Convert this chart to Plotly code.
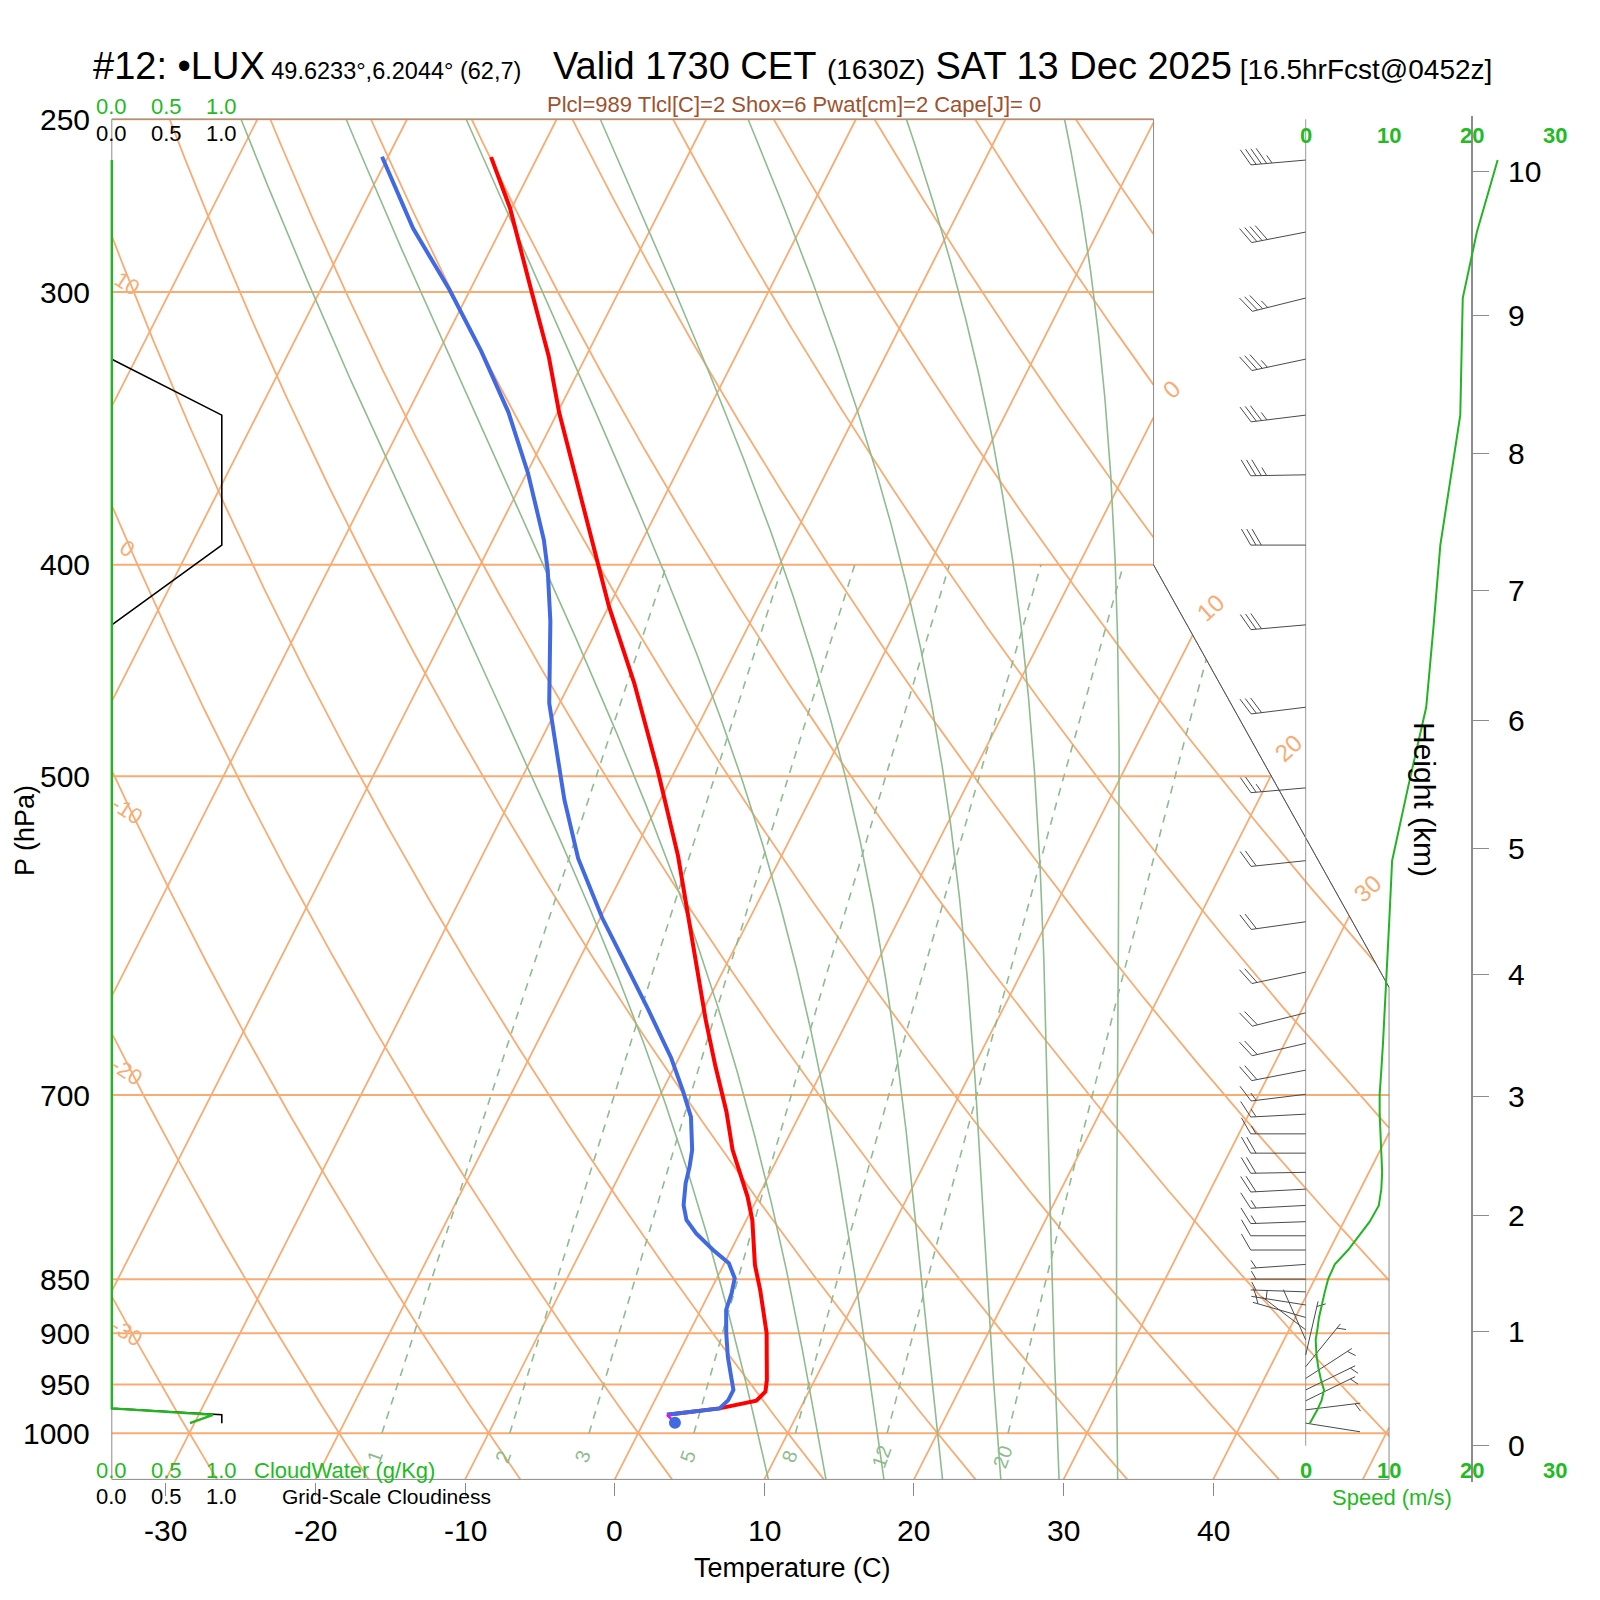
import numpy as np
import plotly.graph_objects as go

W, H = 1600, 1600
OFF = 8.0   # page body margin in the browser
FONT = "Liberation Sans"

# ---------------- data ----------------
temp_p = [260.2, 274.6, 297.6, 321.0, 340.6, 365.3, 391.8, 417.9, 453.2, 496.6,
          544.0, 589.9, 646.6, 678.7, 712.4, 741.6, 760.3, 779.3, 798.6, 818.5,
          837.4, 859.8, 878.1, 900.0, 922.5, 945.5, 957.2, 966.4, 974.2, 980.8]
temp_c = [-53.1, -50.1, -46.2, -42.5, -39.9, -36.5, -33.1, -30.0, -25.7, -21.2,
          -16.9, -13.4, -9.5, -7.3, -5.0, -3.3, -2.0, -0.7, 0.4, 1.3,
          2.1, 3.3, 4.2, 5.2, 6.0, 6.8, 7.1, 6.8, 4.6, 1.3]
dewp_p = [260.1, 280.5, 299.2, 319.2, 340.5, 363.3, 389.6, 402.4, 424.6, 462.9,
          483.2, 512.7, 545.3, 580.4, 609.2, 639.5, 673.3, 697.1, 716.2, 741.6,
          754.9, 768.3, 786.1, 798.6, 809.9, 824.3, 835.9, 849.2, 862.7, 878.1,
          900.0, 922.5, 942.2, 955.4, 965.7, 974.2, 980.8]
dewp_c = [-60.4, -55.9, -51.4, -47.2, -43.3, -39.9, -36.6, -35.3, -33.4, -30.7,
          -28.9, -26.4, -23.5, -19.9, -16.8, -13.7, -10.5, -8.6, -7.2, -6.0,
          -5.6, -5.3, -4.7, -4.0, -2.9, -1.2, 0.3, 1.2, 1.5, 1.7,
          2.5, 3.4, 4.3, 4.9, 4.9, 4.6, 1.3]
parcel_p = [980.8, 989.0]
parcel_t = [1.3, 2.1]
lcl_p = 989.0
lcl_t = 2.1

wind_p = [261.0, 281.6, 301.9, 322.0, 341.6, 363.8, 391.8, 426.2, 464.9, 506.2,
          546.6, 583.0, 614.8, 641.8, 662.8, 681.8, 699.4, 714.2, 729.2, 744.2,
          759.4, 773.0, 786.4, 800.0, 812.0, 824.3, 836.9, 850.0, 861.5, 873.5,
          885.1, 896.7, 906.2, 920.8, 932.3, 943.9, 955.4, 966.4, 975.7, 989.5]
wind_dir = [265, 259, 256, 258, 263, 269, 270, 265, 263, 265,
            264, 262, 258, 256, 257, 259, 263, 267, 270, 270,
            269, 267, 267, 268, 270, 270, 266, 270, 272, 279,
            286, 307, 336, 13, 39, 57, 64, 64, 83, 99]
wind_spd = [23.1, 20.6, 18.9, 18.75, 18.6, 17.5, 16.2, 15.4, 14.5, 12.3,
            10.4, 10.05, 9.76, 9.5, 9.3, 9.1, 8.9, 8.9, 9.0, 9.1,
            9.2, 9.1, 8.8, 7.7, 6.4, 5.1, 3.5, 2.7, 2.3, 1.9,
            1.6, 1.4, 1.2, 1.3, 1.5, 1.8, 2.2, 1.9, 1.4, 0.5]

cloud_p = [261.0, 322.0, 341.6, 363.8, 391.8, 426.2, 966.4, 974.2, 980.8, 989.5]
cloudiness = [0, 0, 1, 1, 1, 0, 0, 0, 1, 1]
cloudwater = [0, 0, 0, 0, 0, 0, 0, 0, 0.92, 0.71]

pressure_ticks = [250, 300, 400, 500, 700, 850, 900, 950, 1000]
temp_ticks = [-30, -20, -10, 0, 10, 20, 30, 40]
height_km = [0, 1, 2, 3, 4, 5, 6, 7, 8, 9, 10]
height_p = [1013.4, 898.6, 794.9, 701.0, 616.6, 539.9, 471.7, 410.9, 355.7, 307.5, 264.2]
speed_ticks = [0, 10, 20, 30]
cloud_ticks = [0.0, 0.5, 1.0]

isotherm_vals = list(range(-110, 51, 10))
dry_adiabat_vals = list(range(-30, 151, 10))
moist_adiabat_vals = [8, 12, 16, 20, 24, 28, 32]
mixing_ratio_vals = [1, 2, 3, 5, 8, 12, 20]
isotherm_label_vals = [0, 10, 20, 30]
dry_label_vals = [-30, -20, -10, 0, 10]

title_html = ('<span style="font-size:38px">#12: \u2022LUX</span>'
              '<span style="font-size:23.5px"> 49.6233\u00b0,6.2044\u00b0 (62,7)</span>'
              '<span style="font-size:38px">&nbsp;&nbsp; Valid 1730 CET&nbsp;</span>'
              '<span style="font-size:28px">(1630Z)</span>'
              '<span style="font-size:38px"> SAT 13 Dec 2025</span>'
              '<span style="font-size:28px"> [16.5hrFcst@0452z]</span>')
subtitle = "Plcl=989 Tlcl[C]=2 Shox=6 Pwat[cm]=2 Cape[J]= 0"

# ---------------- skew-T geometry (NCL style) ----------------
def Yp(p):
    return 132.182 - 44.061 * np.log10(np.asarray(p, float))

def P_of_Y(Y):
    return 10 ** ((132.182 - np.asarray(Y, float)) / 44.061)

def Xs(t, p):
    return 0.54 * np.asarray(t, float) + 0.90692 * Yp(p)

XMIN, XMAX, XCUT = -19.0, 27.1, 18.6
YCUT_LO, YCUT_HI = 9.0, 17.53
YMIN, YMAX = float(Yp(1050.0)), float(Yp(250.0))
PADX, PADY = 0.1, 0.06

# layout (screen pixels)
PX_LEFT, PX_PER_X = 111.8, 27.706
PX_BOTTOM, PX_PER_Y = 1479.4, 49.53
SPD0_PX, SPD_PER = 1305.7, 8.31
X2_L, X2_R = 1228.0, 1562.0
CLD_PER = 110.0


def xp(px):
    return (px - OFF) / W


def yp(px):
    return 1 - (px - OFF) / H


dom_x = [xp(PX_LEFT - PADX * PX_PER_X), xp(PX_LEFT + (XMAX - XMIN + PADX) * PX_PER_X)]
dom_y = [yp(PX_BOTTOM + PADY * PX_PER_Y), yp(PX_BOTTOM - (YMAX - YMIN + PADY) * PX_PER_Y)]


def inside(X, Y):
    X = np.asarray(X, float)
    Y = np.asarray(Y, float)
    eps = 1e-9
    ydiag = YCUT_LO + (XMAX - X) * (YCUT_HI - YCUT_LO) / (XMAX - XCUT)
    cut = (X > XCUT + eps) & (Y > ydiag + eps)
    return (X >= XMIN - eps) & (X <= XMAX + eps) & (Y >= YMIN - eps) & (Y <= YMAX + eps) & ~cut


def clip_curve(fx, fy, t0, t1, n=700):
    t = np.linspace(t0, t1, n)
    X, Y = fx(t), fy(t)
    ins = inside(X, Y)
    xs, ys = [], []
    for i in range(n):
        if i > 0 and ins[i] != ins[i - 1]:
            a, b = t[i - 1], t[i]
            ia = bool(ins[i - 1])
            for _ in range(40):
                m = 0.5 * (a + b)
                if bool(inside(fx(m), fy(m))) == ia:
                    a = m
                else:
                    b = m
            if ia:
                xs.append(float(fx(a))); ys.append(float(fy(a)))
                xs.append(None); ys.append(None)
            else:
                xs.append(float(fx(b))); ys.append(float(fy(b)))
        if ins[i]:
            xs.append(float(X[i])); ys.append(float(Y[i]))
    xs.append(None); ys.append(None)
    return xs, ys


ident = lambda Y: np.asarray(Y, float)

# isotherms
iso_x, iso_y = [], []
for T in isotherm_vals:
    xs, ys = clip_curve(lambda Y, T=T: 0.54 * T + 0.90692 * np.asarray(Y, float), ident, YMIN, YMAX, 300)
    iso_x += xs; iso_y += ys

# isobars
bar_x, bar_y = [], []
for p in pressure_ticks:
    Yc = float(Yp(p))
    xs, ys = clip_curve(lambda X: np.asarray(X, float),
                        lambda X, Yc=Yc: np.full_like(np.asarray(X, float), Yc), XMIN, XMAX, 400)
    bar_x += xs; bar_y += ys

# dry adiabats
def dry_T(theta, p):
    return (theta + 273.15) * (np.asarray(p, float) / 1000.0) ** 0.2857 - 273.15

dry_x, dry_y = [], []
for th in dry_adiabat_vals:
    xs, ys = clip_curve(lambda Y, th=th: 0.54 * dry_T(th, P_of_Y(Y)) + 0.90692 * np.asarray(Y, float),
                        ident, YMIN, YMAX, 500)
    dry_x += xs; dry_y += ys

# saturated adiabats (Stipanuk SATLFT with the Wobus function, as in NCL)
def wobf(t):
    t = np.asarray(t, float)
    x = t - 20.0
    pol_n = 1 + x * (-8.8416605e-03 + x * (1.4714143e-04 + x * (-9.6719890e-07 + x * (-3.2607217e-08 + x * (-3.8598073e-10)))))
    pol_p = 1 + x * (3.6182989e-03 + x * (-1.3603273e-05 + x * (4.9618922e-07 + x * (-6.1059365e-09 + x * (3.9401551e-11 + x * (-1.2588129e-13 + x * (1.6688280e-16)))))))
    return np.where(x <= 0, 15.130 / pol_n ** 4, 29.930 / pol_p ** 4 + 0.96 * x - 14.8)

def sat_T(thw, p):
    p = np.asarray(p, float)
    fac = (1000.0 / p) ** 0.28541
    lo = np.full_like(p, -150.0)
    hi = np.full_like(p, 60.0)
    for _ in range(60):
        mid = 0.5 * (lo + hi)
        pt = (mid + 273.16) * fac - 273.16
        g = pt - wobf(pt) + wobf(mid) - thw
        big = g > 0
        hi = np.where(big, mid, hi)
        lo = np.where(big, lo, mid)
    return 0.5 * (lo + hi)

moist_x, moist_y = [], []
for thw in moist_adiabat_vals:
    xs, ys = clip_curve(lambda Y, thw=thw: 0.54 * sat_T(thw, P_of_Y(Y)) + 0.90692 * np.asarray(Y, float),
                        ident, YMIN, YMAX, 500)
    moist_x += xs; moist_y += ys

# mixing ratio lines
def mix_T(w, p):
    p = np.asarray(p, float)
    e = w * p / (622.0 + w)
    a = np.log(e / 6.112)
    return 243.5 * a / (17.67 - a)

mix_x, mix_y = [], []
for w in mixing_ratio_vals:
    xs, ys = clip_curve(lambda Y, w=w: 0.54 * mix_T(w, P_of_Y(Y)) + 0.90692 * np.asarray(Y, float),
                        ident, float(Yp(1000.0)), float(Yp(400.0)), 300)
    mix_x += xs; mix_y += ys

# wind barbs (pixel-sized glyphs on the speed axis)
STAFF, FULL, SP = 55.0, 18.5, 5.3
barb_x, barb_y = [], []
c60, s60 = np.cos(np.radians(60)), np.sin(np.radians(60))
for p, d, s in zip(wind_p, wind_dir, wind_spd):
    Y0 = float(Yp(p))
    kt = int(round(s * 1.94384 / 5.0)) * 5
    ux, uy = np.sin(np.radians(d)), np.cos(np.radians(d))
    bx, by = ux * c60 + uy * s60, -ux * s60 + uy * c60
    segs = [((0.0, 0.0), (ux * STAFF, uy * STAFF))]
    n50, r = divmod(kt, 50)
    n10, r = divmod(r, 10)
    n5 = r // 5
    pos = STAFF
    for _ in range(n50):
        p1 = (ux * pos, uy * pos)
        p2 = (ux * (pos - 1.6 * SP), uy * (pos - 1.6 * SP))
        pk = (ux * pos + bx * FULL, uy * pos + by * FULL)
        segs += [(p1, pk), (pk, p2)]
        pos -= 2 * SP
    for _ in range(n10):
        segs.append(((ux * pos, uy * pos), (ux * pos + bx * FULL, uy * pos + by * FULL)))
        pos -= SP
    if n5:
        if pos == STAFF:
            pos -= SP
        segs.append(((ux * pos, uy * pos), (ux * pos + bx * FULL / 2, uy * pos + by * FULL / 2)))
    for a, b in segs:
        barb_x += [a[0] / SPD_PER, b[0] / SPD_PER, None]
        barb_y += [Y0 + a[1] / PX_PER_Y, Y0 + b[1] / PX_PER_Y, None]

# ---------------- figure ----------------
ORANGE = "#F8AC74"
SEAGREEN = "#8FBC8F"
GREEN = "#22B422"
GREEN_TXT = "#22BB22"

fig = go.Figure()

def add_line(x, y, color, width, dash=None, xaxis="x", yaxis="y", mode="lines"):
    fig.add_trace(go.Scatter(x=x, y=y, mode=mode, xaxis=xaxis, yaxis=yaxis,
                             line=dict(color=color, width=width, dash=dash),
                             hoverinfo="skip", showlegend=False, connectgaps=False))

add_line(iso_x, iso_y, ORANGE, 1.8)
add_line(bar_x, bar_y, ORANGE, 2.0)
add_line(dry_x, dry_y, ORANGE, 1.8)
add_line(moist_x, moist_y, SEAGREEN, 1.6)
add_line(mix_x, mix_y, SEAGREEN, 1.6, dash="8px,7px")

# outline
add_line([XMIN, XMAX, XMAX, XCUT, XCUT, XMIN, XMIN],
         [YMIN, YMIN, YCUT_LO, YCUT_HI, YMAX, YMAX, YMIN], "#8a8a8a", 1.0)
add_line([XMAX, XCUT], [YCUT_LO, YCUT_HI], "#555555", 1.0)

# cloud profiles
cy = [float(v) for v in Yp(cloud_p)]
add_line(cloudiness, cy, "black", 1.6, xaxis="x3")
add_line(cloudwater, cy, GREEN, 2.4, xaxis="x3")

# sounding
add_line([float(v) for v in Xs(temp_c, temp_p)], [float(v) for v in Yp(temp_p)], "#FF0000", 4.0)
add_line([float(v) for v in Xs(dewp_c, dewp_p)], [float(v) for v in Yp(dewp_p)], "#4169E1", 4.0)
add_line([float(v) for v in Xs(parcel_t, parcel_p)], [float(v) for v in Yp(parcel_p)], "#FF00FF", 2.5)
fig.add_trace(go.Scatter(x=[float(Xs(lcl_t, lcl_p))], y=[float(Yp(lcl_p))], mode="markers",
                         marker=dict(color="#4169E1", size=12), hoverinfo="skip", showlegend=False))

# speed panel
add_line([0, 0], [float(Yp(height_p[0])), YMAX], "#999999", 1.0, xaxis="x2")
add_line(barb_x, barb_y, "#4a4a4a", 1.0, xaxis="x2")
add_line(wind_spd, [float(v) for v in Yp(wind_p)], GREEN, 2.0, xaxis="x2")

# dummy for height axis
fig.add_trace(go.Scatter(x=[None], y=[None], yaxis="y2", hoverinfo="skip", showlegend=False))

tick_X = [float(v) for v in Xs(temp_ticks, 1050.0)]
yr = [YMIN - PADY, YMAX + PADY]

fig.update_layout(
    width=W, height=H, margin=dict(l=0, r=0, t=0, b=0),
    paper_bgcolor="white", plot_bgcolor="rgba(0,0,0,0)", showlegend=False,
    font=dict(family=FONT, color="black"),
    xaxis=dict(domain=dom_x, range=[XMIN - PADX, XMAX + PADX], anchor="y",
               showgrid=False, zeroline=False, showline=False,
               tickvals=tick_X, ticks="outside", ticklen=13, tickwidth=1, tickcolor="#888888",
               showticklabels=False),
    yaxis=dict(domain=dom_y, range=yr, anchor="x", showgrid=False, zeroline=False,
               showline=False, showticklabels=False, ticks=""),
    xaxis2=dict(domain=[xp(X2_L), xp(X2_R)],
                range=[(X2_L - SPD0_PX) / SPD_PER, (X2_R - SPD0_PX) / SPD_PER],
                anchor="y", visible=False),
    xaxis3=dict(domain=[xp(PX_LEFT - 3), xp(PX_LEFT + 170)],
                range=[-3 / CLD_PER, 170 / CLD_PER], anchor="y", visible=False),
    yaxis2=dict(overlaying="y", anchor="free", side="right",
                position=xp(SPD0_PX + 20 * SPD_PER), range=yr,
                showgrid=False, zeroline=False, showline=True, linecolor="#8c8c8c", linewidth=2,
                tickvals=[float(v) for v in Yp(height_p)], ticks="outside", ticklen=16,
                tickcolor="#8c8c8c", tickwidth=1, showticklabels=False),
)

ann = []

def A(text, x, y, xref="paper", yref="paper", size=22, color="black", xanchor="center",
      yanchor="middle", angle=0, xshift=0, yshift=0):
    ann.append(dict(text=text, x=x, y=y, xref=xref, yref=yref, showarrow=False,
                    font=dict(family=FONT, size=size, color=color), xanchor=xanchor,
                    yanchor=yanchor, textangle=angle, xshift=xshift, yshift=yshift))

A(title_html, xp(91), yp(66), xanchor="left", size=38)
A(subtitle, xp(794), yp(104), size=22, color="#A0522D")

# pressure labels
for p in pressure_ticks:
    A(str(p), xp(92), float(Yp(p)), yref="y", size=30, xanchor="right")
# temperature labels
for t, xv in zip(temp_ticks, tick_X):
    A(str(t), xv, yp(1530), xref="x", size=30)
A("Temperature (C)", xp(792), yp(1568), size=27)
A("P (hPa)", xp(25), yp(831), size=27, angle=-90)

# cloud scales
for v in cloud_ticks:
    A(f"{v:.1f}", v, yp(106.7), xref="x3", size=22, color=GREEN_TXT)
    A(f"{v:.1f}", v, yp(133.3), xref="x3", size=22, color="black")
    A(f"{v:.1f}", v, yp(1470.7), xref="x3", size=22, color=GREEN_TXT)
    A(f"{v:.1f}", v, yp(1496.7), xref="x3", size=22, color="black")
A("CloudWater (g/Kg)", xp(252), yp(1470.7), size=22, color=GREEN_TXT, xanchor="left")
A("Grid-Scale Cloudiness", xp(280), yp(1496.7), size=21, color="black", xanchor="left")

# speed scale
for v in speed_ticks:
    A(f"<b>{v}</b>", v, yp(136), xref="x2", size=22, color=GREEN_TXT)
    A(f"<b>{v}</b>", v, yp(1470.7), xref="x2", size=22, color=GREEN_TXT)
A("Speed (m/s)", xp(1392), yp(1497), size=22, color=GREEN_TXT)

# height labels
for hk, hp in zip(height_km, height_p):
    A(str(hk), xp(1506), float(Yp(hp)), yref="y", size=30, xanchor="left")
A("Height (km)", xp(1425), yp(799), size=30, angle=90)

# isotherm labels at the right boundary
for T in isotherm_label_vals:
    Ys = np.linspace(YMIN, YMAX, 4000)
    Xv = 0.54 * T + 0.90692 * Ys
    ok = inside(Xv, Ys)
    idx = np.where(ok)[0][-1]
    A(str(T), float(Xv[idx]), float(Ys[idx]), xref="x", yref="y", size=24, color=ORANGE,
      angle=-42, xshift=18, yshift=28)

# dry adiabat labels at the left edge
for th in dry_label_vals:
    Ys = np.linspace(YMIN, YMAX, 4000)
    Xv = 0.54 * dry_T(th, P_of_Y(Ys)) + 0.90692 * Ys
    target = XMIN + 0.55
    Yl = float(np.interp(target, Xv[::-1], Ys[::-1]))
    A(str(th), target, Yl, xref="x", yref="y", size=22, color=ORANGE, angle=33, yshift=-8)

# mixing ratio labels below 1000 hPa
for w in mixing_ratio_vals:
    A(str(w), float(Xs(mix_T(w, 1025.0), 1025.0)), float(Yp(1025.0)), xref="x", yref="y",
      size=20, color=SEAGREEN, angle=-70)

fig.update_layout(annotations=ann)
fig.write_html("out.html")
